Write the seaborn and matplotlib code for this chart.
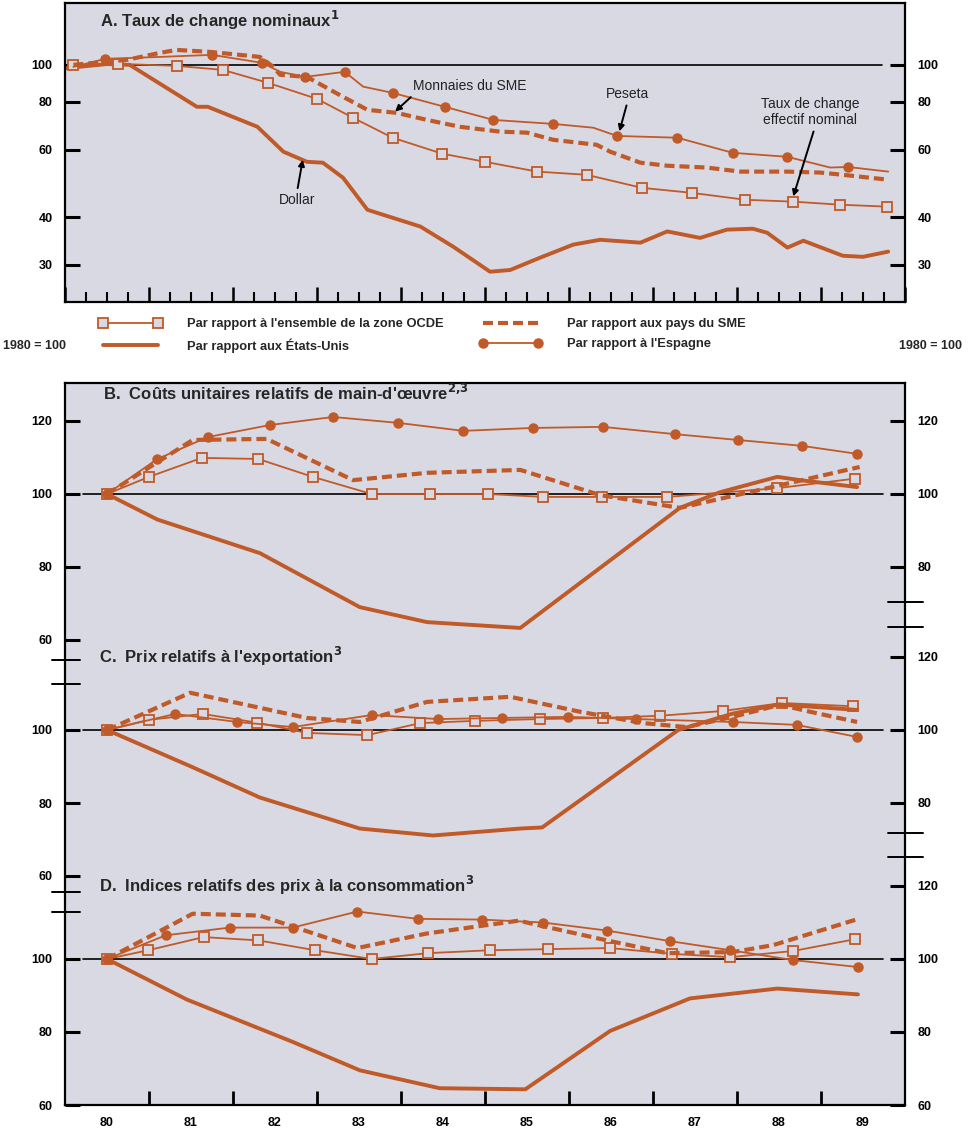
import matplotlib.pyplot as plt
import matplotlib.ticker as mticker
from matplotlib.lines import Line2D
import seaborn as sns

sns.set_style("ticks")
plt.rcParams["font.family"] = ["Liberation Sans", "DejaVu Sans"]
plt.rcParams["font.weight"] = "bold"

ORANGE = "#c05a28"
BG = "#d8d9e3"

# ---- A. Taux de change nominaux (1980 = 100, échelle log)
a_dollar_x = [1980.0, 1980.5, 1980.77, 1981.57, 1981.7, 1982.29, 1982.6, 1982.88, 1983.07,
              1983.31, 1983.6, 1984.23, 1984.62, 1985.06, 1985.3, 1985.65, 1986.05, 1986.37,
              1986.85, 1987.17, 1987.56, 1987.88, 1988.19, 1988.36, 1988.6, 1988.79,
              1989.26, 1989.5, 1989.8]
a_dollar = [98, 100.5, 100, 77.7, 77.7, 68.9, 59.3, 55.8, 55.5, 50.7, 41.8, 37.8, 33.5,
            28.8, 29.1, 31.3, 33.9, 34.9, 34.3, 36.7, 35.3, 37.1, 37.3, 36.4, 33.3, 34.7,
            31.7, 31.5, 32.5]
a_ocde_x = [1980.1, 1980.63, 1981.33, 1981.88, 1982.42, 1983.0, 1983.43, 1983.9, 1984.49,
            1985.0, 1985.62, 1986.21, 1986.87, 1987.46, 1988.1, 1988.67, 1989.23, 1989.79]
a_ocde = [100, 100.6, 99.4, 97.0, 89.7, 81.5, 72.7, 64.5, 58.6, 55.8, 52.6, 51.6, 47.7,
          46.3, 44.4, 43.9, 43.1, 42.6]
a_sme_x = [1980.1, 1980.74, 1981.13, 1981.33, 1981.73, 1982.32, 1982.48, 1982.56, 1982.88,
           1983.31, 1983.6, 1983.95, 1984.31, 1984.7, 1985.18, 1985.5, 1985.81, 1986.33,
           1986.49, 1986.85, 1987.17, 1987.64, 1988.04, 1988.6, 1988.99, 1989.26, 1989.8]
a_sme = [100, 103.1, 107.5, 109.4, 108.1, 104.9, 98.8, 94.2, 93.0, 82.5, 76.3, 74.9, 71.8,
         68.9, 66.9, 66.5, 63.7, 61.8, 59.3, 55.5, 54.5, 53.9, 52.6, 52.6, 52.3, 51.6, 50.1]
a_peseta_x = [1980.1, 1980.48, 1981.13, 1981.75, 1982.35, 1982.56, 1982.86, 1983.33, 1983.55,
              1983.9, 1984.52, 1985.1, 1985.81, 1986.29, 1986.57, 1987.29, 1987.95, 1988.6,
              1989.11, 1989.32, 1989.8]
a_peseta = [98.8, 103.7, 104.9, 106.2, 101.2, 95.9, 93.0, 95.9, 87.7, 84.5, 77.7, 71.8,
            70.1, 68.5, 65.2, 64.5, 58.9, 57.5, 53.9, 54.1, 52.6]
a_peseta_marks = [1, 3, 4, 6, 7, 9, 10, 11, 12, 14, 15, 16, 17, 19]

# ---- B. Coûts unitaires relatifs de main-d'oeuvre
b_us_x = [1980.5, 1981.1, 1982.32, 1983.51, 1984.31, 1985.42, 1987.32, 1987.8, 1988.48,
          1988.75, 1989.43]
b_us = [100, 93, 83.8, 69.0, 64.9, 63.3, 96.2, 100.5, 104.7, 103.8, 101.9]
b_ocde_x = [1980.5, 1981.0, 1981.63, 1982.3, 1982.95, 1983.65, 1984.35, 1985.04, 1985.69,
            1986.39, 1987.17, 1988.48, 1989.4]
b_ocde = [100, 104.7, 109.9, 109.6, 104.7, 100, 100, 100, 99.2, 99.2, 99.2, 101.6, 104.2]
b_sme_x = [1980.5, 1981.52, 1982.4, 1983.43, 1984.31, 1985.42, 1986.37, 1987.32, 1988.36,
           1989.46]
b_sme = [100, 114.8, 115.1, 103.8, 105.8, 106.6, 99.7, 96.2, 101.6, 107.4]
b_esp_x = [1980.5, 1981.1, 1981.7, 1982.44, 1983.19, 1983.96, 1984.74, 1985.57, 1986.4,
           1987.26, 1988.01, 1988.77, 1989.43]
b_esp = [100, 109.6, 115.6, 118.9, 121.1, 119.5, 117.3, 118.1, 118.4, 116.4, 114.8, 113.2,
         111.0]

# ---- C. Prix relatifs à l'exportation
c_us_x = [1980.5, 1981.52, 1982.32, 1983.51, 1984.38, 1985.42, 1985.68, 1987.3, 1987.95,
          1988.5, 1989.43]
c_us = [100, 89.8, 81.5, 73.0, 71.1, 73.0, 73.3, 100, 104.5, 107, 105.5]
c_ocde_x = [1980.5, 1981.0, 1981.64, 1982.29, 1982.88, 1983.6, 1984.23, 1984.88, 1985.65,
            1986.4, 1987.08, 1987.83, 1988.54, 1989.38]
c_ocde = [100, 102.8, 104.4, 102.0, 99.2, 98.6, 101.9, 102.5, 103.0, 103.3, 103.9, 105.2,
          107.4, 106.5]
c_sme_x = [1980.5, 1981.49, 1982.88, 1983.51, 1984.31, 1985.3, 1986.13, 1986.88, 1987.4,
           1987.95, 1988.51, 1988.87, 1989.43]
c_sme = [100, 110.2, 103.3, 102.2, 107.7, 109.1, 105.0, 101.9, 100.8, 103.6, 106.9, 105.0,
         102.2]
c_esp_x = [1980.5, 1981.31, 1982.05, 1982.71, 1983.65, 1984.44, 1985.2, 1985.99, 1986.8,
           1987.95, 1988.71, 1989.43]
c_esp = [100, 104.4, 102.2, 100.8, 104.1, 103.0, 103.3, 103.6, 103.0, 102.2, 101.4, 98.1]

# ---- D. Indices relatifs des prix à la consommation
d_us_x = [1980.5, 1981.45, 1982.71, 1983.51, 1984.46, 1985.48, 1986.49, 1987.44, 1988.48,
          1989.44]
d_us = [100, 88.9, 77.3, 69.5, 64.6, 64.3, 80.3, 89.2, 91.9, 90.3]
d_ocde_x = [1980.5, 1980.99, 1981.65, 1982.3, 1982.98, 1983.65, 1984.32, 1985.06, 1985.75,
            1986.49, 1987.23, 1987.92, 1988.67, 1989.4]
d_ocde = [100, 102.4, 106.0, 105.1, 102.4, 100, 101.6, 102.4, 102.7, 103.0, 101.4, 100.5,
          102.2, 105.4]
d_sme_x = [1980.5, 1981.52, 1982.32, 1983.48, 1984.31, 1985.4, 1986.45, 1987.17, 1987.95,
           1988.43, 1989.46]
d_sme = [100, 112.4, 111.9, 103.0, 107.0, 110.5, 105.1, 101.6, 101.9, 103.8, 111.1]
d_esp_x = [1980.5, 1981.2, 1981.96, 1982.71, 1983.48, 1984.2, 1984.96, 1985.69, 1986.45,
           1987.2, 1987.92, 1988.67, 1989.44]
d_esp = [100, 106.5, 108.6, 108.6, 113.0, 111.0, 110.8, 110.0, 107.8, 104.9, 102.4, 99.7,
         97.8]

year_labels = ["80", "81", "82", "83", "84", "85", "86", "87", "88", "89"]
labels = {
    "ocde": "Par rapport à l'ensemble de la zone OCDE",
    "us": "Par rapport aux États-Unis",
    "sme": "Par rapport aux pays du SME",
    "esp": "Par rapport à l'Espagne",
}

STYLES = {
    "ocde": dict(linewidth=1.3, marker="s", markersize=7, markerfacecolor=BG,
                 markeredgecolor=ORANGE, markeredgewidth=1.3),
    "us": dict(linewidth=2.8),
    "sme": dict(linewidth=3.0, linestyle=(0, (2.4, 1.2))),
    "esp": dict(linewidth=1.3, marker="o", markersize=6.5, markerfacecolor=ORANGE,
                markeredgecolor=ORANGE, markeredgewidth=1),
}


def draw(ax, x, y, kind, **kw):
    sns.lineplot(x=x, y=y, ax=ax, color=ORANGE, estimator=None, sort=False,
                 legend=False, **STYLES[kind], **kw)


W, H = 968, 1128


def rect(l, t, r, b):
    return [l / W, 1 - b / H, (r - l) / W, (b - t) / H]


def style_yticks(ax, side):
    ax.tick_params(axis="y", direction="in", length=11, width=2.2, labelsize=9,
                   pad=9, colors="black", left=(side == "left"), labelleft=(side == "left"),
                   right=(side == "right"), labelright=(side == "right"))


fig = plt.figure(figsize=(W / 100, H / 100), dpi=100, facecolor="white")

# ================= panel A =================
axA = fig.add_axes(rect(65, 3, 905, 302), facecolor=BG)
axA.set_yscale("log")
draw(axA, a_dollar_x, a_dollar, "us")
draw(axA, a_ocde_x, a_ocde, "ocde")
draw(axA, a_sme_x, a_sme, "sme")
draw(axA, a_peseta_x, a_peseta, "esp", markevery=a_peseta_marks)
A_LIM = (24.0, 145.1)
A_TICKS = [30, 40, 60, 80, 100]
axA.set_xlim(1980, 1990)
axA.set_ylim(*A_LIM)
axA.axhline(100, xmin=0.006, xmax=0.973, color="black", lw=1.2, zorder=1.8)
axA.set_yticks(A_TICKS, labels=[str(t) for t in A_TICKS])
axA.yaxis.set_minor_locator(mticker.NullLocator())
style_yticks(axA, "left")
axA.xaxis.set_major_locator(mticker.MultipleLocator(1))
axA.xaxis.set_minor_locator(mticker.MultipleLocator(0.25))
axA.tick_params(axis="x", which="major", direction="in", length=11, width=1.8,
                labelbottom=False, colors="black")
axA.tick_params(axis="x", which="minor", direction="in", length=7, width=1.5,
                colors="black")
for s in axA.spines.values():
    s.set_linewidth(1.6)
    s.set_color("black")
twA = axA.twinx()
twA.set_yscale("log")
twA.set_ylim(*A_LIM)
twA.set_yticks(A_TICKS, labels=[str(t) for t in A_TICKS])
twA.yaxis.set_minor_locator(mticker.NullLocator())
style_yticks(twA, "right")
for s in twA.spines.values():
    s.set_visible(False)

axA.text(0.042, 0.94, "A. Taux de change nominaux$^{1}$", transform=axA.transAxes,
         fontsize=12, va="center", ha="left")

arrow = dict(arrowstyle="-|>", color="black", lw=1.4, shrinkA=1, shrinkB=0,
             mutation_scale=9)
ann_kw = dict(ha="center", va="center", fontsize=10, fontweight="normal", color="#222222")
axA.annotate("Monnaies du SME", xy=(1983.93, 75.5), xytext=(1984.82, 88.1),
             arrowprops=dict(arrow, relpos=(0.02, 0)), **ann_kw)
axA.annotate("Peseta", xy=(1986.6, 67.0), xytext=(1986.7, 84.0),
             arrowprops=dict(arrow, relpos=(0.5, 0)), **ann_kw)
axA.annotate("Taux de change\neffectif nominal", xy=(1988.67, 45.3),
             xytext=(1988.87, 75.4), multialignment="center",
             arrowprops=dict(arrow, relpos=(0.55, 0)), **ann_kw)
axA.annotate("Dollar", xy=(1982.83, 56.5), xytext=(1982.76, 44.4),
             arrowprops=dict(arrow, relpos=(0.5, 1)), **ann_kw)

# legend between the panels
proxy = {k: Line2D([], [], color=ORANGE, **STYLES[k]) for k in STYLES}
leg_kw = dict(loc="upper left", frameon=False, fontsize=9.3, handlelength=4.9,
              handletextpad=1.9, labelspacing=0.62, numpoints=2, borderpad=0,
              borderaxespad=0)
fig.legend([proxy["ocde"], proxy["us"]], [labels["ocde"], labels["us"]],
           bbox_to_anchor=(99 / W, 1 - 318 / H), **leg_kw)
fig.legend([proxy["sme"], proxy["esp"]], [labels["sme"], labels["esp"]],
           bbox_to_anchor=(479 / W, 1 - 318 / H), **leg_kw)
fig.text(3 / W, 1 - 346 / H, "1980 = 100", fontsize=9, va="center", ha="left")
fig.text(962 / W, 1 - 346 / H, "1980 = 100", fontsize=9, va="center", ha="right")

# ================= panels B, C, D (one frame, broken axis) =================
TOP, BOT = 383, 1105
PX_PER_UNIT = 3.65
bcd_rect = rect(65, TOP, 905, BOT)
axB = fig.add_axes(bcd_rect, facecolor=BG, label="B")
axC = fig.add_axes(bcd_rect, facecolor="none", label="C")
axD = fig.add_axes(bcd_rect, facecolor="none", label="D")

panels = [
    (axB, 494, [(b_ocde_x, b_ocde, "ocde"), (b_us_x, b_us, "us"), (b_sme_x, b_sme, "sme"),
                (b_esp_x, b_esp, "esp")],
     [120, 100, 80, 60], [120, 100, 80],
     "B.  Coûts unitaires relatifs de main-d'œuvre$^{2{,}3}$", 393, 0.045),
    (axC, 730, [(c_ocde_x, c_ocde, "ocde"), (c_us_x, c_us, "us"), (c_sme_x, c_sme, "sme"),
                (c_esp_x, c_esp, "esp")],
     [100, 80, 60], [120, 100, 80],
     "C.  Prix relatifs à l'exportation$^{3}$", 656, 0.04),
    (axD, 959, [(d_ocde_x, d_ocde, "ocde"), (d_us_x, d_us, "us"), (d_sme_x, d_sme, "sme"),
                (d_esp_x, d_esp, "esp")],
     [100, 80, 60], [120, 100, 80, 60],
     "D.  Indices relatifs des prix à la consommation$^{3}$", 885, 0.04),
]

for ax, y100, series, lticks, rticks, title, ty, tx in panels:
    for x, y, kind in series:
        draw(ax, x, y, kind)
    lim = (100 - (BOT - y100) / PX_PER_UNIT, 100 + (y100 - TOP) / PX_PER_UNIT)
    ax.set_xlim(1980, 1990)
    ax.set_ylim(*lim)
    ax.axhline(100, xmin=0.022, xmax=0.974, color="black", lw=1.2, zorder=1.8)
    ax.set_yticks(lticks, labels=[str(t) for t in lticks])
    style_yticks(ax, "left")
    tw = ax.twinx()
    tw.set_ylim(*lim)
    tw.set_yticks(rticks, labels=[str(t) for t in rticks])
    style_yticks(tw, "right")
    for s in tw.spines.values():
        s.set_visible(False)
    ax.text(tx, (BOT - ty) / (BOT - TOP), title, transform=ax.transAxes, fontsize=12,
            va="center", ha="left")
    if ax is not axB:
        for s in ax.spines.values():
            s.set_visible(False)
        ax.tick_params(axis="x", bottom=False, labelbottom=False)

for s in axB.spines.values():
    s.set_linewidth(1.6)
    s.set_color("black")
axB.set_xticks(range(1981, 1990), labels=[""] * 9)
axB.set_xticks([1980.5 + i for i in range(10)], labels=year_labels, minor=True)
axB.tick_params(axis="x", which="major", direction="in", length=10, width=2,
                colors="black")
axB.tick_params(axis="x", which="minor", length=0, labelsize=9, pad=9, colors="black")

# axis-break marks on the spines
for ypx in (660, 684, 892, 912):
    f = (BOT - ypx) / (BOT - TOP)
    axB.plot([-0.0155, 0.018], [f, f], transform=axB.transAxes, color="black", lw=1.4,
             clip_on=False)
for ypx in (602, 627, 833, 857):
    f = (BOT - ypx) / (BOT - TOP)
    axB.plot([0.980, 1.021], [f, f], transform=axB.transAxes, color="black", lw=1.4,
             clip_on=False)

fig.savefig("out.png", dpi=100, facecolor="white")
